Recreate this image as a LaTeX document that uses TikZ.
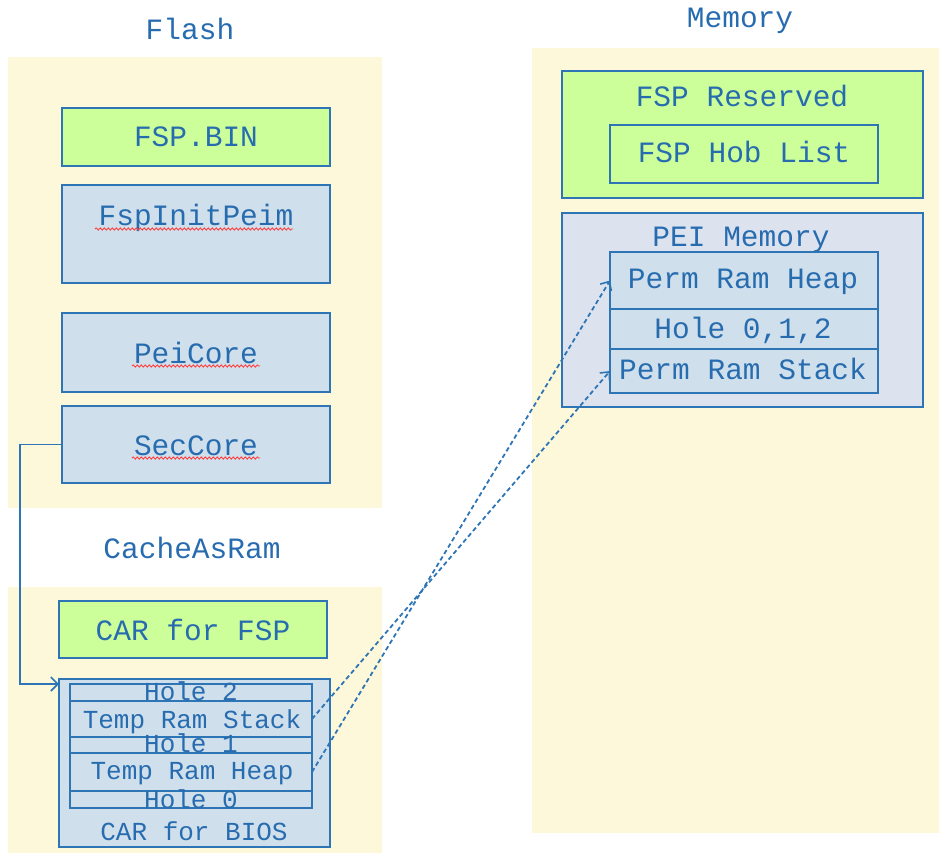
\documentclass[tikz,border=0pt]{standalone}
\usepackage{fontspec}
\setmonofont{Liberation Mono}
\usetikzlibrary{arrows.meta,decorations.pathmorphing}
\definecolor{bl}{RGB}{46,117,182}
\definecolor{tx}{RGB}{40,108,176}
\definecolor{yel}{RGB}{253,248,217}
\definecolor{grn}{RGB}{204,255,153}
\definecolor{lbl}{RGB}{207,223,235}
\definecolor{pei}{RGB}{220,227,239}
\tikzset{
 region/.style={fill=yel, draw=none, anchor=north west, inner sep=0pt, outer sep=0pt},
 gbox/.style={fill=grn, draw=bl, line width=1.8pt, anchor=north west, inner sep=0pt, outer sep=0pt},
 bbox/.style={fill=lbl, draw=bl, line width=1.8pt, anchor=north west, inner sep=0pt, outer sep=0pt},
 pbox/.style={fill=pei, draw=bl, line width=1.8pt, anchor=north west, inner sep=0pt, outer sep=0pt},
 txt/.style={text=tx, font=\ttfamily\fontsize{29.5}{30}\selectfont, anchor=base, inner sep=0pt},
 stxt/.style={text=tx, font=\ttfamily\fontsize{26}{27}\selectfont, anchor=base, inner sep=0pt},
 squig/.style={draw=red!75, line width=0.9pt, decorate, decoration={snake, amplitude=1.1pt, segment length=4pt}},
 link/.style={draw=bl, line width=1.8pt, dash pattern=on 4.5pt off 3pt, -{Straight Barb[length=7pt,width=13pt,line width=1.6pt]}},
 conn/.style={draw=bl, line width=1.8pt, -{Straight Barb[length=7pt,width=14pt,line width=1.6pt]}}
}
\begin{document}
\begin{tikzpicture}[x=1pt,y=-1pt]
\useasboundingbox (0,0) rectangle (939,853);
% regions
\node[region, minimum width=374pt, minimum height=451pt] (flashreg) at (8,57) {};
\node[region, minimum width=374pt, minimum height=266pt] (carreg) at (8,587) {};
\node[region, minimum width=407pt, minimum height=785pt] (memreg) at (532,48) {};
% titles
\node[txt] (tflash) at (190,40) {Flash};
\node[txt] (tcar) at (192,558) {CacheAsRam};
\node[txt] (tmem) at (740,28) {Memory};
% flash boxes
\node[gbox, minimum width=268pt, minimum height=58pt] (fspbin) at (62,108) {};
\node[bbox, minimum width=268pt, minimum height=98pt] (fspinit) at (62,185) {};
\node[bbox, minimum width=268pt, minimum height=79pt] (peicore) at (62,313) {};
\node[bbox, minimum width=268pt, minimum height=77pt] (seccore) at (62,406) {};
\node[txt] (lfspbin) at (196,147) {FSP.BIN};
\node[txt] (lfspinit) at (196,225) {FspInitPeim};
\node[txt] (lpeicore) at (196,363) {PeiCore};
\node[txt] (lseccore) at (196,455) {SecCore};
\draw[squig] (95,229) -- (293,229);
\draw[squig] (132,366) -- (260,366);
\draw[squig] (132,458) -- (260,458);
% CAR boxes
\node[gbox, minimum width=268pt, minimum height=57pt] (carfsp) at (59,601) {};
\node[txt] (lcarfsp) at (193,640) {CAR for FSP};
\node[bbox, minimum width=271pt, minimum height=168pt] (carbios) at (59,679) {};
\node[bbox, minimum width=242pt, minimum height=17pt] (hole2) at (70,684) {};
\node[bbox, minimum width=242pt, minimum height=36pt] (tstack) at (70,701) {};
\node[bbox, minimum width=242pt, minimum height=16pt] (hole1) at (70,737) {};
\node[bbox, minimum width=242pt, minimum height=38pt] (theap) at (70,753) {};
\node[bbox, minimum width=242pt, minimum height=17pt] (hole0) at (70,791) {};
\node[stxt] (lhole2) at (191,700) {Hole 2};
\node[stxt] (ltstack) at (192,728) {Temp Ram Stack};
\node[stxt] (lhole1) at (191,752) {Hole 1};
\node[stxt] (ltheap) at (192,779) {Temp Ram Heap};
\node[stxt] (lhole0) at (191,808) {Hole 0};
\node[stxt] (lcarbios) at (194,840) {CAR for BIOS};
% memory boxes
\node[gbox, minimum width=361pt, minimum height=127pt] (fspres) at (562,71) {};
\node[txt] (lfspres) at (742,107) {FSP Reserved};
\node[gbox, minimum width=268pt, minimum height=58pt] (hob) at (610,125) {};
\node[txt] (lhob) at (744,163) {FSP Hob List};
\node[pbox, minimum width=361pt, minimum height=194pt] (peimem) at (562,213) {};
\node[txt] (lpeimem) at (741,246) {PEI Memory};
\node[bbox, minimum width=268pt, minimum height=57pt] (pheap) at (610,252) {};
\node[bbox, minimum width=268pt, minimum height=40pt] (pholes) at (610,309) {};
\node[bbox, minimum width=268pt, minimum height=44pt] (pstack) at (610,349) {};
\node[txt] (lpheap) at (743,288) {Perm Ram Heap};
\node[txt] (lpholes) at (743,338) {Hole 0,1,2};
\node[txt] (lpstack) at (743,379) {Perm Ram Stack};
% connectors
\draw[conn] (seccore.west) -- ++(-42,0) |- (carbios.west |- hole2.north);
\draw[link] (tstack.east) -- (pstack.west);
\draw[link] (theap.east) -- (pheap.west);
\end{tikzpicture}
\end{document}
